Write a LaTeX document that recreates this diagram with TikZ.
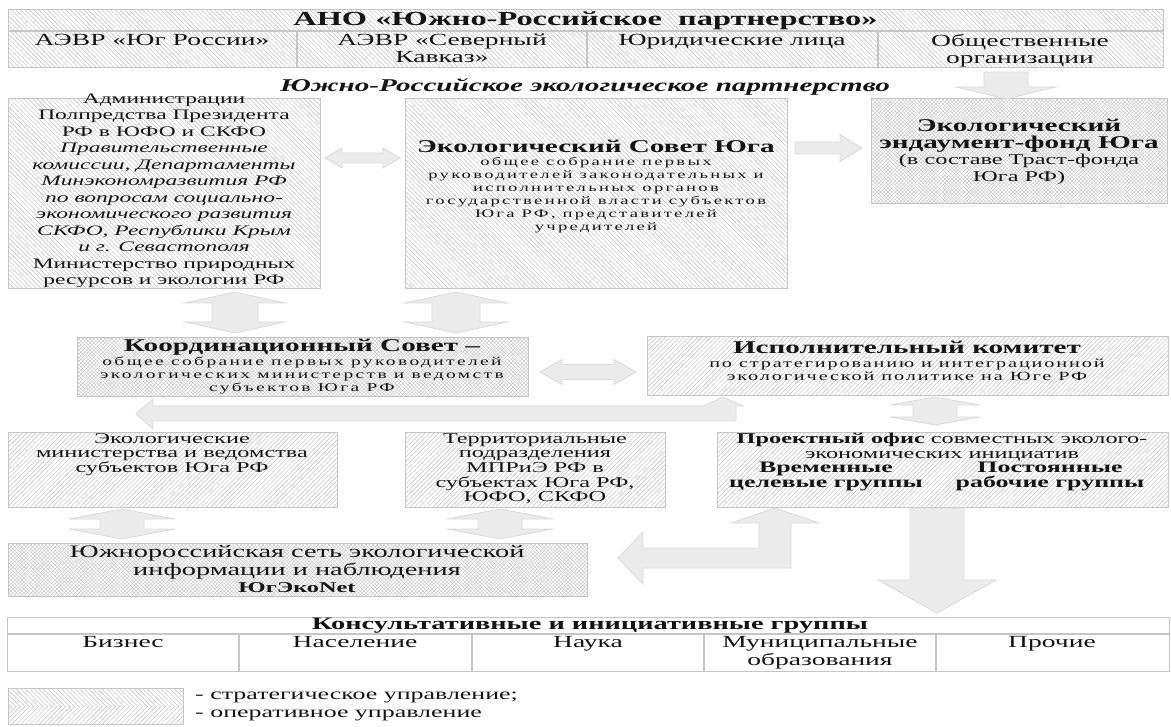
\documentclass[tikz,border=0pt]{standalone}
\usepackage{fontspec}
\setmainfont{Liberation Serif}[FakeStretch=1.62]
\newfontfamily\spcA{Liberation Serif}[FakeStretch=1.62,LetterSpace=20]
\newfontfamily\spcB{Liberation Serif}[FakeStretch=1.62,LetterSpace=15]
\usetikzlibrary{patterns.meta}
\definecolor{hatch}{HTML}{BDBDBD}
\definecolor{bord}{HTML}{C6C6C6}
\definecolor{arrf}{HTML}{EBEBEB}
\definecolor{arrd}{HTML}{DADADA}
\definecolor{ink}{HTML}{141414}
\tikzset{
 strat/.style={pattern={Lines[angle=-45,distance=3.2pt,line width=0.45pt]},pattern color=hatch},
 oper/.style={pattern={Lines[angle=45,distance=3.2pt,line width=0.45pt]},pattern color=hatch},
 cross/.style={pattern={Lines[angle=45,distance=2.6pt,line width=0.35pt]},pattern color=hatch,
   postaction={pattern={Lines[angle=-45,distance=2.6pt,line width=0.35pt]},pattern color=hatch}},
 box/.style={draw=bord,line width=1.2pt,anchor=north west,inner sep=0pt},
 grid/.style={draw=bord,line width=1.2pt},
 blk/.style={fill=arrf,draw=arrd,line width=0.8pt,line join=miter},
 lbl/.style={align=center,text=ink,inner sep=0pt},
}
% double horizontal arrow: x1 x2 y shaft head headlen
\newcommand\myDH[6]{\draw[blk] (#1,#3) -- (#1+#6,#3-#5) -- (#1+#6,#3-#4) -- (#2-#6,#3-#4) -- (#2-#6,#3-#5) -- (#2,#3) -- (#2-#6,#3+#5) -- (#2-#6,#3+#4) -- (#1+#6,#3+#4) -- (#1+#6,#3+#5) -- cycle;}
% double vertical arrow: cx y1 y2 shaft head headlen
\newcommand\myDV[6]{\draw[blk] (#1,#2) -- (#1+#5,#2+#6) -- (#1+#4,#2+#6) -- (#1+#4,#3-#6) -- (#1+#5,#3-#6) -- (#1,#3) -- (#1-#5,#3-#6) -- (#1-#4,#3-#6) -- (#1-#4,#2+#6) -- (#1-#5,#2+#6) -- cycle;}
% single right arrow: x1 x2 y shaft head headlen
\newcommand\mySR[6]{\draw[blk] (#1,#3-#4) -- (#2-#6,#3-#4) -- (#2-#6,#3-#5) -- (#2,#3) -- (#2-#6,#3+#5) -- (#2-#6,#3+#4) -- (#1,#3+#4) -- cycle;}
% single down arrow: cx y1 y2 shaft head headlen
\newcommand\mySD[6]{\draw[blk] (#1-#4,#2) -- (#1+#4,#2) -- (#1+#4,#3-#6) -- (#1+#5,#3-#6) -- (#1,#3) -- (#1-#5,#3-#6) -- (#1-#4,#3-#6) -- cycle;}
\begin{document}
\begin{tikzpicture}[x=1pt,y=-1pt]
\useasboundingbox (0,0) rectangle (1171,727);

% ---------- top table ----------
\node[box,strat,minimum width=1155pt,minimum height=58pt] (ano) at (8,9) {};
\draw[grid] (8,31) -- (1163,31);
\draw[grid] (297,31) -- (297,67);
\draw[grid] (587,31) -- (587,67);
\draw[grid] (878,31) -- (878,67);
\node[lbl,font=\fontsize{20}{22}\selectfont\bfseries] (anoT) at (585.5,20.5) {АНО «Южно-Российское\ \ партнерство»};
\node[lbl,anchor=north,font=\fontsize{17}{17}\selectfont] (m1) at (152,34) {АЭВР «Юг России»};
\node[lbl,anchor=north,font=\fontsize{17}{17}\selectfont] (m2) at (442,34) {АЭВР «Северный\\Кавказ»};
\node[lbl,anchor=north,font=\fontsize{17}{17}\selectfont] (m3) at (732,34) {Юридические лица};
\node[lbl,anchor=north,font=\fontsize{17}{17}\selectfont] (m4) at (1020,34) {Общественные\\организации};

\node[lbl,font=\fontsize{18}{20}\selectfont\bfseries\itshape] (erp) at (585,87) {Южно-Российское экологическое партнерство};

% ---------- row 1 ----------
\node[box,strat,minimum width=312pt,minimum height=190pt] (adm) at (8,98) {};
\node[box,strat,minimum width=382pt,minimum height=190pt] (esu) at (405,98) {};
\node[box,cross,minimum width=296pt,minimum height=105pt] (efu) at (871,98) {};

\node[lbl,font=\fontsize{14.5}{16.5}\selectfont] (admT) at (164,191) {Администрации\\Полпредства Президента\\РФ в ЮФО и СКФО\\\textit{Правительственные}\\\textit{комиссии, Департаменты}\\\textit{Минэкономразвития РФ}\\\textit{по вопросам социально-}\\\textit{экономического развития}\\\textit{СКФО, Республики Крым}\\\textit{и г. Севастополя}\\Министерство природных\\ресурсов и экологии РФ};
\node[lbl,font=\fontsize{11.5}{13}\selectfont] (esuT) at (596,187) {{\fontsize{18}{19}\selectfont\bfseries Экологический Совет Юга}\\{\spcA общее собрание первых}\\{\spcA руководителей законодательных и}\\{\spcA исполнительных органов}\\{\spcA государственной власти субъектов}\\{\spcA Юга РФ, представителей}\\{\spcA учредителей}};
\node[lbl,font=\fontsize{15}{16.7}\selectfont] (efuT) at (1019,152) {{\fontsize{18}{16.7}\selectfont\bfseries Экологический}\\{\fontsize{18}{16.7}\selectfont\bfseries эндаумент-фонд Юга}\\(в составе Траст-фонда\\Юга РФ)};

% arrows row 1
\mySD{1006}{72}{99}{22}{50}{12}
\myDH{325}{400}{158}{5}{10}{17}
\mySR{795}{862}{148}{6}{13.5}{22}
\myDV{235}{292}{333}{23}{50}{11}
\myDV{456}{292}{333}{24}{51}{11}

% ---------- row 2 ----------
\node[box,cross,minimum width=451pt,minimum height=59pt] (ksv) at (77,337) {};
\node[box,oper,minimum width=521pt,minimum height=59pt] (isk) at (647,336) {};
\node[lbl,font=\fontsize{12}{13.3}\selectfont] (ksvT) at (302,367) {{\fontsize{18}{15}\selectfont\bfseries Координационный Совет –}\\{\spcA общее собрание первых руководителей}\\{\spcA экологических министерств и ведомств}\\{\spcA субъектов Юга РФ}};
\node[lbl,font=\fontsize{12.5}{13.5}\selectfont] (iskT) at (907,361) {{\fontsize{18}{15}\selectfont\bfseries Исполнительный комитет}\\{\spcB по стратегированию и интеграционной}\\{\spcB экологической политике на Юге РФ}};

\myDH{540}{636}{372}{7.5}{12.5}{22}
% bent arrow exec <-> left
\draw[blk] (136,414) -- (153,399) -- (153,406) -- (703,406) -- (723,397) -- (743,406) -- (736,406) -- (736,421) -- (153,421) -- (153,429) -- cycle;
\myDV{935}{397}{425}{22}{45}{8}

% ---------- row 3 ----------
\node[box,oper,minimum width=329pt,minimum height=75pt] (emv) at (8,432) {};
\node[box,oper,minimum width=260pt,minimum height=75pt] (tpd) at (405,432) {};
\node[box,oper,minimum width=451pt,minimum height=75pt] (pof) at (717,432) {};
\node[lbl,anchor=north,font=\fontsize{15}{14.7}\selectfont] (emvT) at (172,433) {Экологические\\министерства и ведомства\\субъектов Юга РФ};
\node[lbl,anchor=north,font=\fontsize{15}{14.7}\selectfont] (tpdT) at (535,433) {Территориальные\\подразделения\\МПРиЭ РФ в\\субъектах Юга РФ,\\ЮФО, СКФО};
\node[lbl,anchor=north,font=\fontsize{15}{14.7}\selectfont] (pofT) at (942,433) {{\bfseries Проектный офис} совместных эколого-\\экономических инициатив};
\node[lbl,anchor=north,font=\fontsize{16}{14.7}\selectfont\bfseries] (pofA) at (826,462) {Временные\\целевые группы};
\node[lbl,anchor=north,font=\fontsize{16}{14.7}\selectfont\bfseries] (pofB) at (1050,462) {Постоянные\\рабочие группы};

\myDV{122}{509}{539}{22}{53}{10}
\myDV{500}{509}{539}{22}{53}{10}

% ---------- row 4 ----------
\node[box,cross,minimum width=579pt,minimum height=53pt] (yen) at (8,543) {};
\node[lbl,font=\fontsize{17.5}{17.5}\selectfont] (yenT) at (297,569.5) {Южнороссийская сеть экологической\\информации и наблюдения\\{\fontsize{15}{16}\selectfont\bfseries ЮгЭкоNet}};

% bent arrow from project office
\draw[blk] (618,558) -- (643,532) -- (643,548) -- (759,548) -- (759,523) -- (731,523) -- (775,508) -- (819,523) -- (791,523) -- (791,568) -- (643,568) -- (643,584) -- cycle;
% big down arrow
\mySD{937}{508}{613}{27}{59}{33}

% ---------- bottom table ----------
\node[box,minimum width=1162pt,minimum height=54pt,fill=white] (kig) at (7,617) {};
\draw[grid] (7,634) -- (1169,634);
\draw[grid] (239,634) -- (239,671);
\draw[grid] (472,634) -- (472,671);
\draw[grid] (704,634) -- (704,671);
\draw[grid] (936,634) -- (936,671);
\node[lbl,font=\fontsize{17.5}{18}\selectfont\bfseries] (kigT) at (590,625.5) {Консультативные и инициативные группы};
\node[lbl,anchor=north,font=\fontsize{17}{18}\selectfont] (g1) at (123,636) {Бизнес};
\node[lbl,anchor=north,font=\fontsize{17}{18}\selectfont] (g2) at (355,636) {Население};
\node[lbl,anchor=north,font=\fontsize{17}{18}\selectfont] (g3) at (588,636) {Наука};
\node[lbl,anchor=north,font=\fontsize{17}{18}\selectfont] (g4) at (820,636) {Муниципальные\\образования};
\node[lbl,anchor=north,font=\fontsize{17}{18}\selectfont] (g5) at (1052,636) {Прочие};

% ---------- legend ----------
\node[box,strat,minimum width=175pt,minimum height=18pt,draw=none] (lgS) at (8,688) {};
\node[box,oper,minimum width=175pt,minimum height=18pt,draw=none] (lgO) at (8,706) {};
\draw[grid,line width=1pt] (8,688) rectangle (183,724);
\node[lbl,anchor=west,font=\fontsize{16}{18}\selectfont] (lgST) at (195,697) {- стратегическое управление;};
\node[lbl,anchor=west,font=\fontsize{16}{18}\selectfont] (lgOT) at (195,715) {- оперативное управление};
\end{tikzpicture}
\end{document}
